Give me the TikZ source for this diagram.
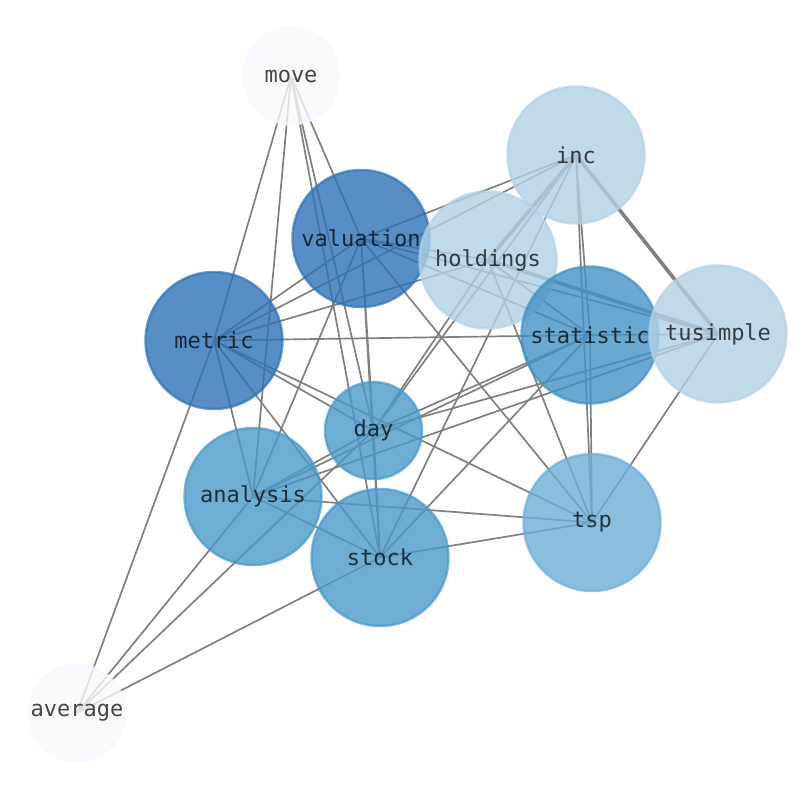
\documentclass[tikz,border=0pt]{standalone}
\usepackage{fontspec}
\setmonofont{DejaVu Sans Mono}
\usetikzlibrary{backgrounds}

\definecolor{pale}{HTML}{F5F9FE}
\definecolor{light}{HTML}{B2D1E5}
\definecolor{soft}{HTML}{6BAED6}
\definecolor{mid}{HTML}{4A98C9}
\definecolor{strong}{HTML}{4292C6}
\definecolor{deep}{HTML}{2D72B6}

\begin{document}
\begin{tikzpicture}[
  x=1pt, y=-1pt,
  vertex/.style={circle, draw=#1, fill=#1, fill opacity=.8, draw opacity=.7, line width=2.5pt, minimum size=137pt, inner sep=0pt},
  small/.style={minimum size=97pt},
  word/.style={font=\ttfamily\fontsize{22}{26}\selectfont, text=black, text opacity=.72, inner sep=0pt},
  link/.style={draw=gray, line width=1.7pt},
  heavy/.style={draw=gray, line width=3.6pt}
]
\useasboundingbox (0,0) rectangle (794,790);

\node[vertex=pale, small] (move) at (291,76) {};
\node[vertex=light] (inc) at (576,155) {};
\node[vertex=deep] (valuation) at (361,238.5) {};
\node[vertex=light] (holdings) at (488,260) {};
\node[vertex=deep] (metric) at (214,340.5) {};
\node[vertex=strong] (statistic) at (590,335) {};
\node[vertex=light] (tusimple) at (718,334) {};
\node[vertex=mid, small] (day) at (373.5,430.5) {};
\node[vertex=mid] (analysis) at (253,496.5) {};
\node[vertex=mid] (stock) at (380,557.5) {};
\node[vertex=soft] (tsp) at (592,522.5) {};
\node[vertex=pale, small] (average) at (77,713) {};

\node[word] (move-text) at (move) {move};
\node[word] (inc-text) at (inc) {inc};
\node[word] (valuation-text) at (valuation) {valuation};
\node[word] (holdings-text) at (holdings) {holdings};
\node[word] (metric-text) at (metric) {metric};
\node[word] (statistic-text) at (statistic) {statistic};
\node[word] (tusimple-text) at (tusimple) {tusimple};
\node[word] (day-text) at (day) {day};
\node[word] (analysis-text) at (analysis) {analysis};
\node[word] (stock-text) at (stock) {stock};
\node[word] (tsp-text) at (tsp) {tsp};
\node[word] (average-text) at (average) {average};

\begin{scope}[on background layer]
\draw[link] (move.center) -- (metric.center) (move.center) -- (analysis.center) (move.center) -- (day.center) (move.center) -- (stock.center) (move.center) -- (valuation.center);
\draw[link] (average.center) -- (metric.center) (average.center) -- (analysis.center) (average.center) -- (day.center) (average.center) -- (stock.center);
\draw[link] (inc.center) -- (valuation.center) (inc.center) -- (metric.center) (inc.center) -- (day.center) (inc.center) -- (stock.center) (inc.center) -- (statistic.center) (inc.center) -- (tsp.center);
\draw[heavy] (inc.center) -- (holdings.center) (inc.center) -- (tusimple.center) (holdings.center) -- (tusimple.center);
\draw[link] (holdings.center) -- (valuation.center) (holdings.center) -- (metric.center) (holdings.center) -- (day.center) (holdings.center) -- (statistic.center) (holdings.center) -- (tsp.center);
\draw[link] (valuation.center) -- (statistic.center) (valuation.center) -- (tusimple.center) (valuation.center) -- (metric.center) (valuation.center) -- (analysis.center) (valuation.center) -- (day.center) (valuation.center) -- (stock.center) (valuation.center) -- (tsp.center);
\draw[link] (metric.center) -- (statistic.center) (metric.center) -- (day.center) (metric.center) -- (tsp.center) (metric.center) -- (stock.center) (metric.center) -- (analysis.center);
\draw[link] (statistic.center) -- (analysis.center) (statistic.center) -- (day.center) (statistic.center) -- (stock.center) (statistic.center) -- (tsp.center) (statistic.center) -- (tusimple.center);
\draw[link] (tusimple.center) -- (day.center) (tusimple.center) -- (analysis.center) (tusimple.center) -- (tsp.center);
\draw[link] (analysis.center) -- (day.center) (analysis.center) -- (stock.center) (analysis.center) -- (tsp.center);
\draw[link] (stock.center) -- (day.center) (stock.center) -- (tsp.center);
\end{scope}
\end{tikzpicture}
\end{document}
